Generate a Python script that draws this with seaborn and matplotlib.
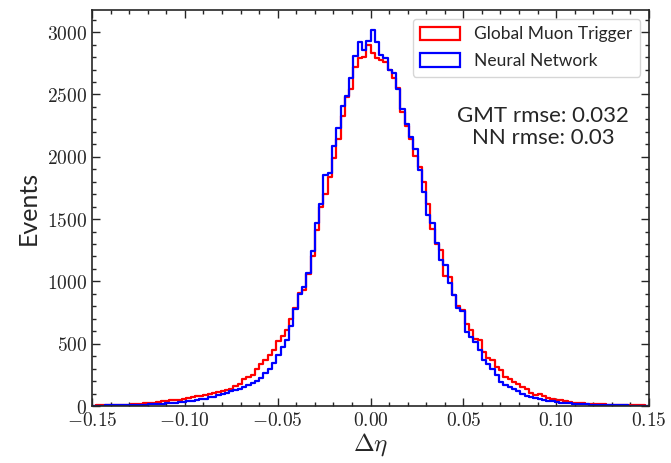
import numpy as np
import pandas as pd
import seaborn as sns
import matplotlib
matplotlib.use("Agg")
import matplotlib.pyplot as plt
from matplotlib.patches import Patch
from matplotlib.ticker import MultipleLocator, FuncFormatter

# ---- data ----
x_range = (-0.15, 0.15)
n_bins = 130

gmt_counts = [
    4, 5, 6, 5, 7, 8, 9, 10, 12, 13,
    16, 18, 21, 24, 28, 34, 38, 42, 46, 50,
    52, 58, 62, 70, 80, 84, 92, 96, 104, 110,
    118, 130, 140, 160, 176, 215, 235, 250, 295, 340,
    370, 410, 450, 520, 560, 610, 700, 790, 910, 930,
    1060, 1200, 1410, 1600, 1700, 1840, 1990, 2140, 2330, 2480,
    2540, 2720, 2790, 2800, 2900, 2835, 2795, 2775, 2760, 2700,
    2635, 2555, 2360, 2250, 2140, 2010, 1915, 1800, 1620, 1420,
    1300, 1250, 1040, 1035, 890, 800, 770, 660, 612, 535,
    530, 430, 382, 370, 315, 288, 236, 213, 195, 180,
    150, 134, 106, 92, 95, 78, 64, 55, 50, 45,
    38, 32, 28, 26, 22, 20, 18, 17, 16, 14,
    12, 11, 10, 9, 8, 7, 6, 5, 5, 4,
]

nn_counts = [
    3, 4, 3, 5, 6, 5, 7, 8, 7, 9,
    10, 12, 11, 14, 15, 17, 19, 21, 24, 27,
    30, 34, 38, 44, 48, 55, 60, 70, 76, 86,
    95, 102, 118, 126, 140, 150, 165, 185, 200, 225,
    262, 300, 345, 410, 470, 530, 645, 775, 900, 955,
    1065, 1245, 1470, 1620, 1850, 1870, 2090, 2235, 2405, 2485,
    2630, 2810, 2925, 2860, 2930, 3020, 2925, 2815, 2790, 2700,
    2675, 2540, 2380, 2265, 2155, 2060, 1890, 1715, 1535, 1465,
    1305, 1170, 1135, 990, 890, 785, 765, 590, 555, 515,
    450, 370, 335, 300, 250, 190, 168, 155, 135, 120,
    95, 80, 72, 64, 58, 50, 44, 40, 32, 28,
    25, 22, 18, 17, 15, 13, 12, 10, 9, 8,
    8, 7, 6, 5, 5, 4, 4, 3, 3, 2,
]

series_labels = ["Global Muon Trigger", "Neural Network"]
series_colors = ["red", "blue"]
rmse_text = "GMT rmse: 0.032\nNN rmse: 0.03"

# ---- build table ----
edges = np.linspace(x_range[0], x_range[1], n_bins + 1)
centers = 0.5 * (edges[:-1] + edges[1:])
df = pd.concat([
    pd.DataFrame({"deta": centers, "count": gmt_counts, "series": series_labels[0]}),
    pd.DataFrame({"deta": centers, "count": nn_counts, "series": series_labels[1]}),
], ignore_index=True)

sns.set_style("ticks")
plt.rcParams["mathtext.fontset"] = "cm"
plt.rcParams["font.family"] = ["Lato", "DejaVu Sans"]

fig = plt.figure(figsize=(6.71, 4.63), dpi=100)
ax = fig.add_axes([92 / 671, 1 - 406 / 463, (649 - 92) / 671, (406 - 10) / 463])

for lab, col in zip(series_labels, series_colors):
    sns.histplot(data=df[df["series"] == lab], x="deta", weights="count",
                 bins=n_bins, binrange=x_range, element="step", fill=False,
                 color=col, linewidth=1.6, ax=ax)

ax.set_xlim(*x_range)
ax.set_ylim(0, 3178)

ax.xaxis.set_major_locator(MultipleLocator(0.05))
ax.xaxis.set_minor_locator(MultipleLocator(0.01))
ax.yaxis.set_major_locator(MultipleLocator(500))
ax.yaxis.set_minor_locator(MultipleLocator(100))

def xfmt(v, pos):
    return r"$%.2f$" % v

def yfmt(v, pos):
    return r"$%d$" % int(round(v))

ax.xaxis.set_major_formatter(FuncFormatter(xfmt))
ax.yaxis.set_major_formatter(FuncFormatter(yfmt))
ax.tick_params(which="both", direction="in", top=True, right=True, width=1.0)
ax.tick_params(which="major", length=6, labelsize=14)
ax.tick_params(which="minor", length=3)
for sp in ax.spines.values():
    sp.set_linewidth(1.2)

ax.set_xlabel(r"$\Delta\eta$", fontsize=18, labelpad=2)
ax.set_ylabel("Events", fontsize=18, labelpad=5)

handles = [Patch(facecolor="none", edgecolor=c, linewidth=1.6) for c in series_colors]
ax.legend(handles, series_labels, loc="upper right", fontsize=12.5,
          frameon=True, fancybox=True, framealpha=0.8, edgecolor="#cccccc",
          borderaxespad=0.5, handlelength=2.3, handleheight=0.8,
          handletextpad=0.8, labelspacing=0.6, borderpad=0.45)

ax.text(0.81, 0.705, rmse_text, transform=ax.transAxes, ha="center", va="center",
        fontsize=16, linespacing=1.12)

fig.savefig("out.png", dpi=100)
